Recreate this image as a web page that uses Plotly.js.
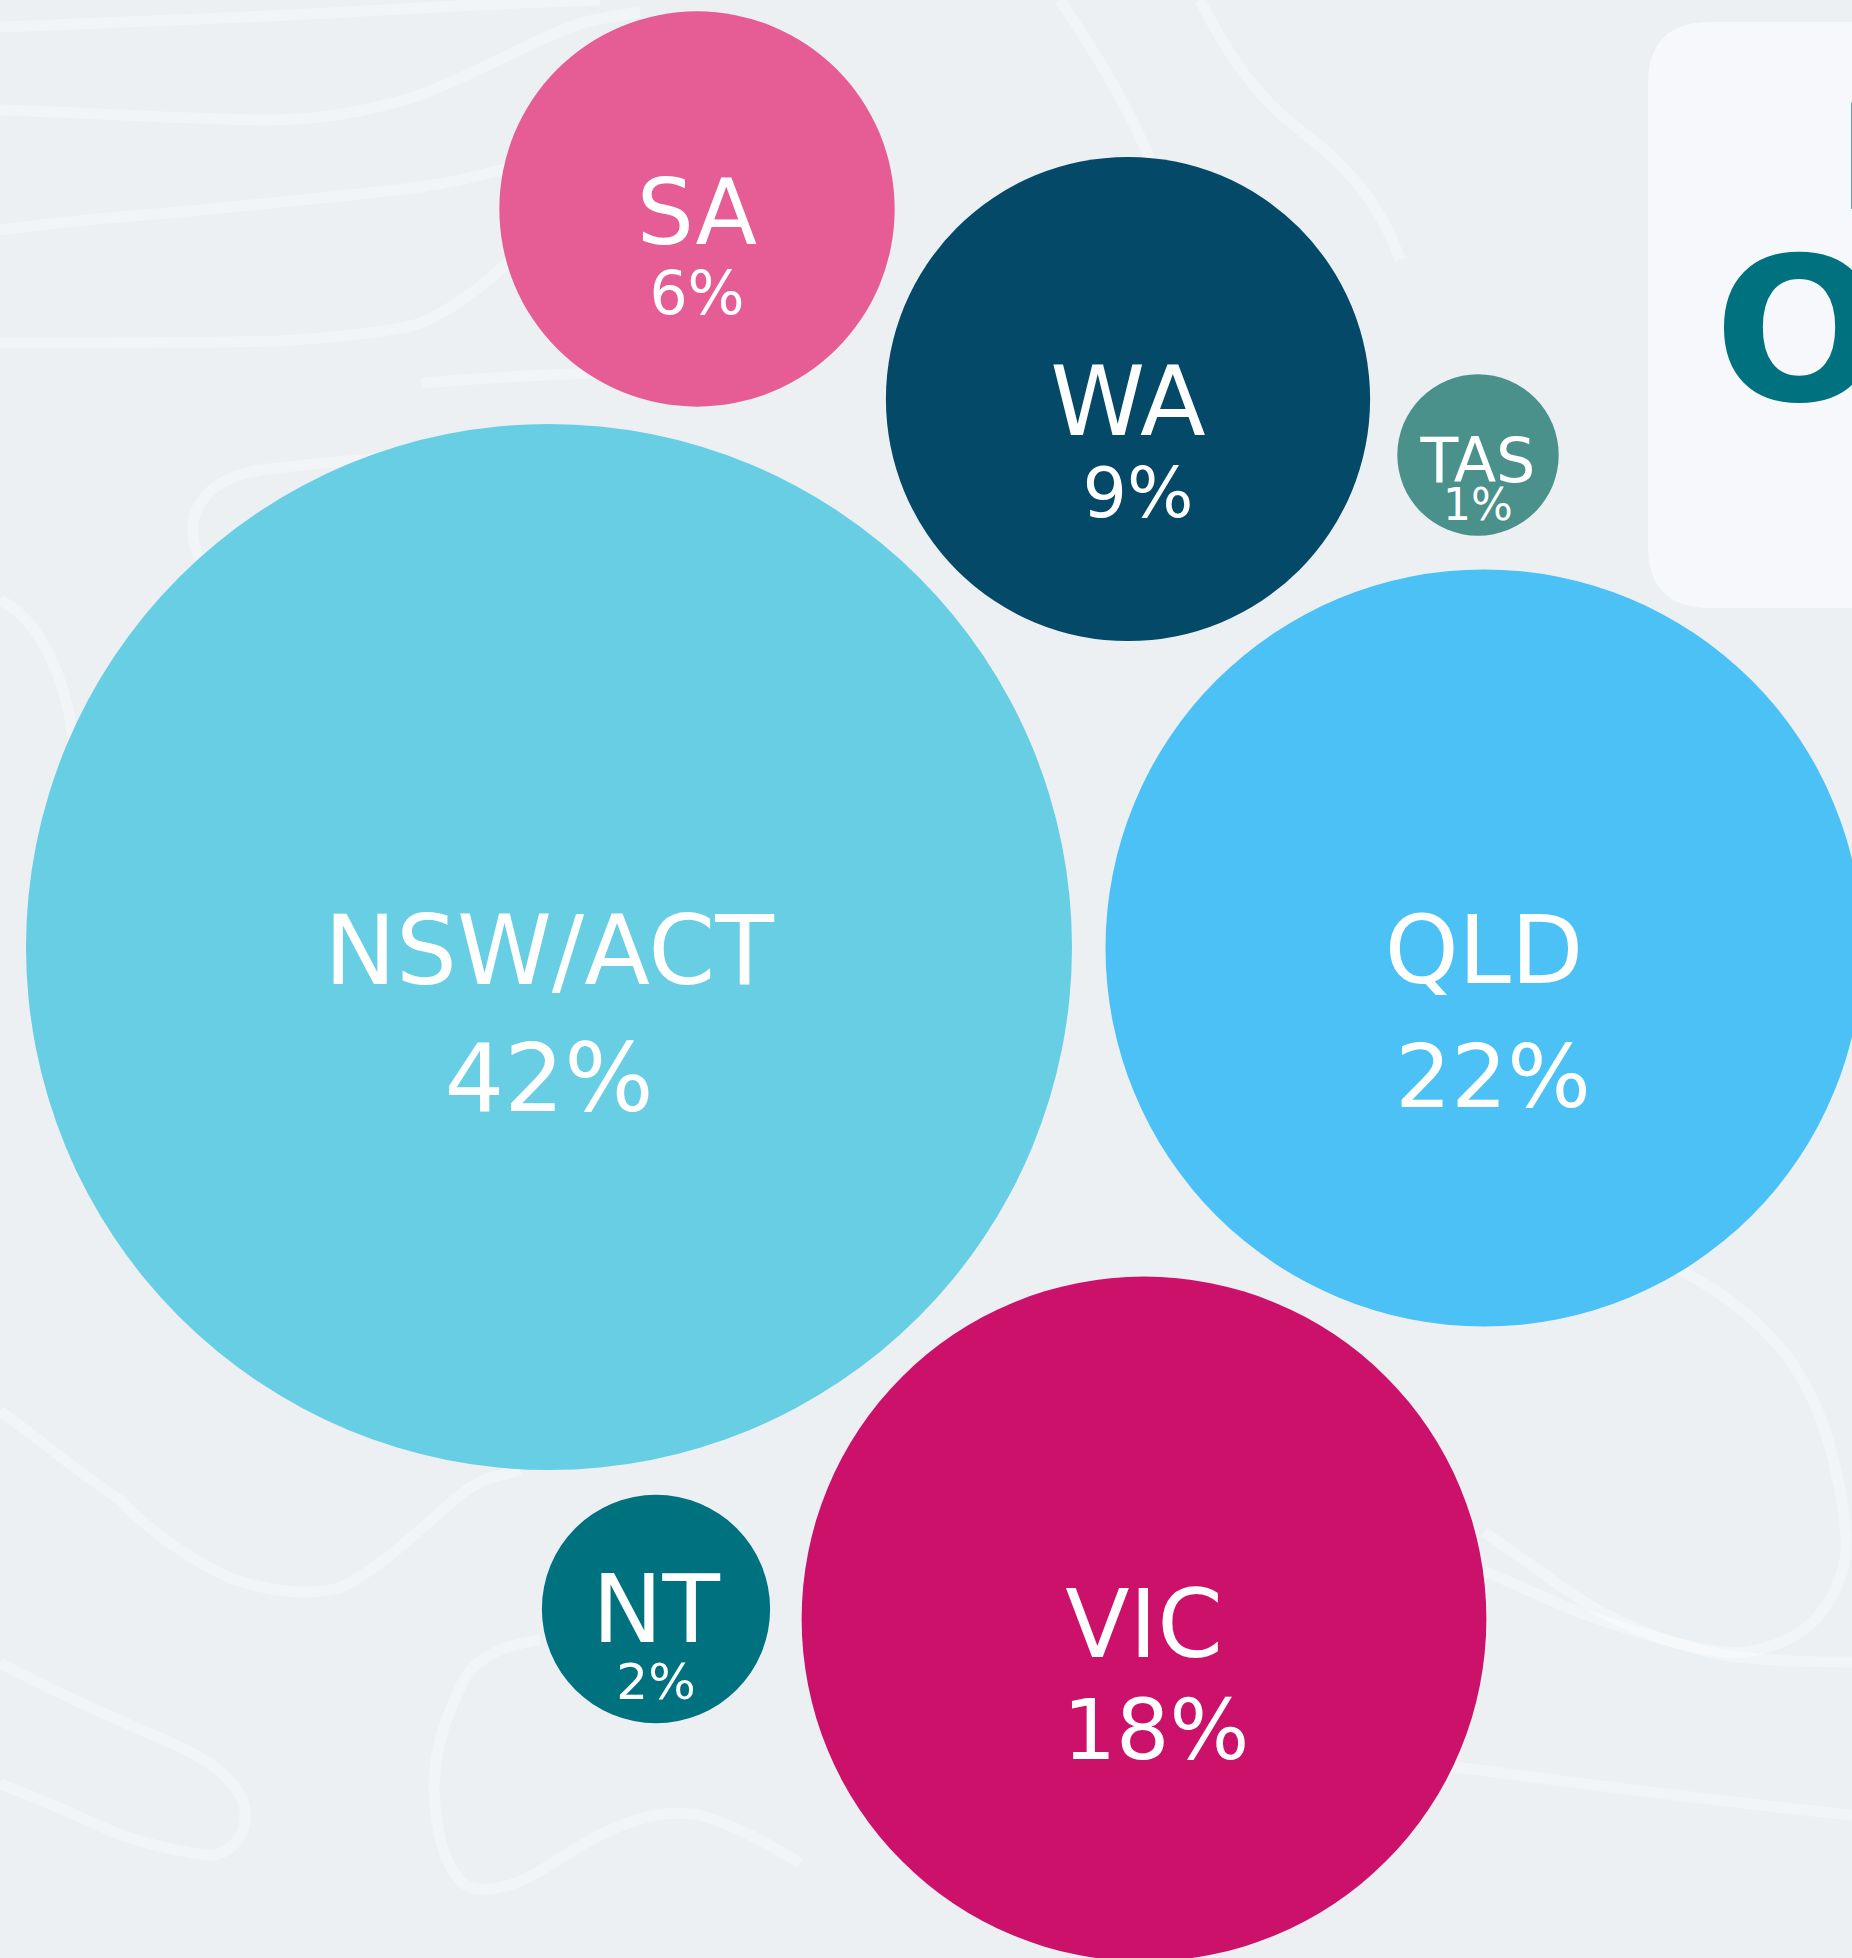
<!DOCTYPE html>
<html>
<head>
<meta charset="utf-8">
<script src="https://cdn.plot.ly/plotly-3.0.1.min.js"></script>
<style>
  html, body { margin: 0; padding: 0; background: #ECF0F3; }
  #chart { width: 1852px; height: 1958px; }
</style>
</head>
<body>
<div id="chart"></div>
<script>
// ---------------- DATA ----------------
const states   = ["NSW/ACT", "QLD", "VIC", "WA", "SA", "NT", "TAS"];
const shares   = [42, 22, 18, 9, 6, 2, 1];              // % of members
const bubbleX  = [549, 1484, 1144, 1128, 697, 656, 1478]; // packed-bubble layout (px)
const bubbleY  = [947, 948, 1619, 399, 209, 1609, 455];
const colours  = ["#67CEE3", "#4BC1F6", "#CC116B", "#044A68", "#E65C95", "#00727F", "#4A918B"];
const titleChars = ["L", "O"];

// ---------------- STYLE ----------------
const FONT = "DejaVu Sans";
const nameSize = [96, 94, 94, 96, 90, 94, 62];
const pctSize  = [94, 88, 84, 70, 60, 50, 44];
const nameDy   = [13, 11, 14, 12, 12, 9, 11];
const pctDy    = [140, 137, 119, 100, 90, 77, 54];
const pctDx    = [0, 9, 12, 10, 0, 0, 0];
const RADIUS_PER_SQRT_PCT = 80.7;          // px radius for 1 %
const sizeref = 1 / (2 * RADIUS_PER_SQRT_PCT * RADIUS_PER_SQRT_PCT);

const bubbles = {
  type: "scatter", mode: "markers",
  x: bubbleX, y: bubbleY,
  marker: { size: shares, sizemode: "area", sizeref: sizeref, color: colours, opacity: 1, line: { width: 0 } },
  cliponaxis: false, hoverinfo: "skip", showlegend: false
};
const names = {
  type: "scatter", mode: "text",
  x: bubbleX, y: bubbleY.map((v, i) => v + nameDy[i]),
  text: states, textposition: "middle center",
  textfont: { family: FONT, size: nameSize, color: "#FFFFFF" },
  cliponaxis: false, hoverinfo: "skip", showlegend: false
};
const pcts = {
  type: "scatter", mode: "text",
  x: bubbleX.map((v, i) => v + pctDx[i]), y: bubbleY.map((v, i) => v + pctDy[i]),
  text: shares.map(s => s + "%"), textposition: "middle center",
  textfont: { family: FONT, size: pctSize, color: "#FFFFFF" },
  cliponaxis: false, hoverinfo: "skip", showlegend: false
};

const line = (d) => ({ type: "path", path: d, layer: "below", line: { color: "rgba(255,255,255,0.32)", width: 11 } });
const deco = [
  "M0,27 C120,22 250,18 383,10 S560,2 600,0",
  "M0,110 C80,112 150,118 268,120 C330,120 383,107 420,95 C460,80 497,60 540,40 S590,20 640,12",
  "M0,230 C60,222 115,217 180,212 C268,203 340,197 421,187 C480,178 520,165 560,150",
  "M0,343 C100,343 191,343 280,341 C344,337 400,330 421,323 C450,310 480,290 510,260",
  "M421,383 C480,378 540,375 600,373",
  "M0,1411 C40,1440 77,1471 120,1500 C153,1535 200,1565 230,1578 C270,1592 306,1596 340,1588 C383,1567 430,1520 459,1496 S500,1478 520,1470",
  "M0,1663 C50,1690 102,1713 160,1738 C204,1756 240,1780 245,1809 C248,1840 225,1858 204,1855 C160,1848 130,1840 102,1827 C60,1808 30,1795 0,1784",
  "M540,1640 C500,1645 470,1660 459,1690 C440,1730 434,1760 434,1791 C436,1830 444,1863 460,1880 C470,1892 485,1891 510,1885 C540,1875 561,1855 600,1835 C630,1820 663,1809 700,1815 C740,1827 770,1845 800,1863",
  "M1484,1571 C1540,1595 1580,1615 1628,1629 C1680,1645 1720,1655 1747,1652 C1790,1645 1819,1625 1835,1590 C1850,1560 1848,1536 1840,1490 C1830,1440 1819,1402 1790,1360 C1760,1320 1720,1290 1676,1268",
  "M1484,1532 C1540,1570 1570,1595 1600,1611 C1650,1638 1700,1652 1737,1657 C1790,1662 1820,1662 1852,1662",
  "M1430,1764 C1560,1780 1700,1800 1852,1815",
  "M0,600 C40,620 70,680 75,760 C80,840 70,900 60,960",
  "M200,560 C180,520 200,480 260,470 C340,460 420,455 500,450",
  "M1060,0 C1100,60 1130,110 1150,160",
  "M1200,0 C1230,60 1260,100 1300,130 C1340,160 1380,200 1400,260"
];

const card = {
  type: "path", layer: "below",
  path: "M1900,22 L1710,22 Q1648,22 1648,84 L1648,546 Q1648,608 1710,608 L1900,608 Z",
  fillcolor: "rgba(248,249,251,0.85)", line: { width: 0 }
};

const layout = {
  width: 1852, height: 1958,
  margin: { l: 0, r: 0, t: 0, b: 0, pad: 0 },
  paper_bgcolor: "#ECF0F3", plot_bgcolor: "rgba(0,0,0,0)",
  xaxis: { range: [0, 1852], visible: false, fixedrange: true },
  yaxis: { range: [1958, 0], visible: false, fixedrange: true },
  showlegend: false,
  shapes: [card].concat(deco.map(line)),
  annotations: [
    { x: 1836, y: 158, xref: "x", yref: "y", xanchor: "left", yanchor: "middle", showarrow: false,
      text: titleChars[0], font: { family: FONT, size: 146, color: "#00727F", weight: 700 } },
    { x: 1712, y: 330, xref: "x", yref: "y", xanchor: "left", yanchor: "middle", showarrow: false,
      text: titleChars[1], font: { family: FONT, size: 200, color: "#00727F", weight: 700 } }
  ]
};

Plotly.newPlot("chart", [bubbles, names, pcts], layout, { staticPlot: true, displayModeBar: false });
</script>
</body>
</html>
